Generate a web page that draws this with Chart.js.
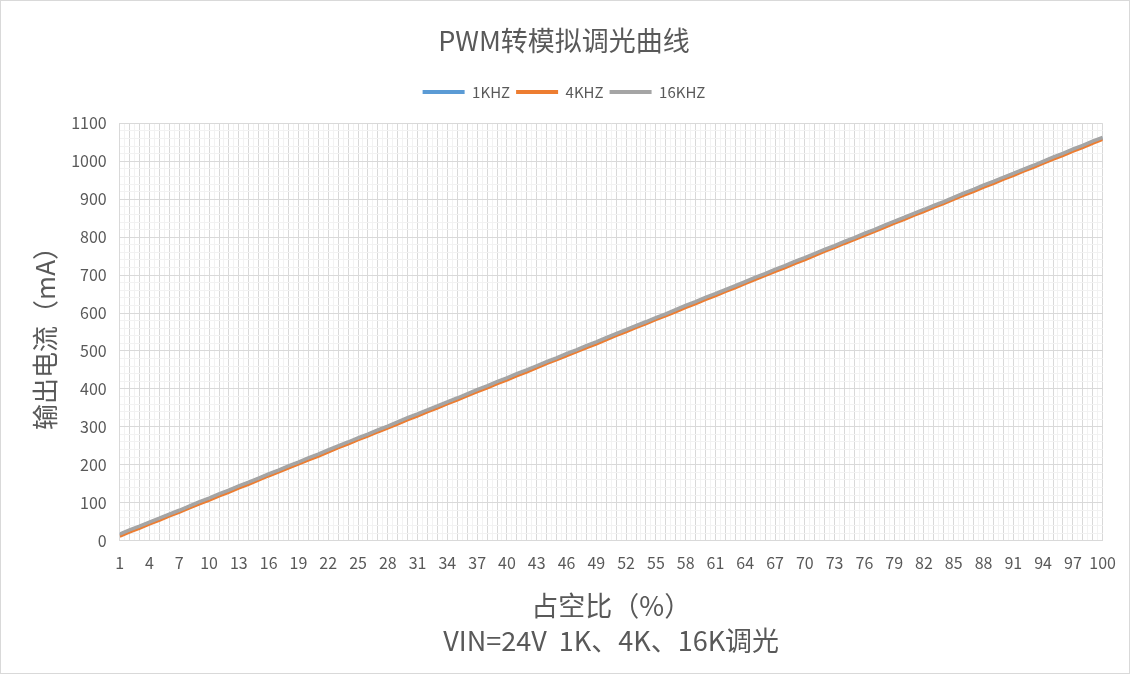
<!DOCTYPE html>
<html>
<head>
<meta charset="utf-8">
<script src="https://cdn.jsdelivr.net/npm/chart.js@4/dist/chart.umd.min.js"></script>
<style>
  html, body { margin: 0; padding: 0; background: #fff; }
  #wrap { width: 1128px; height: 672px; border: 1px solid #d9d9d9; }
</style>
</head>
<body>
<div id="wrap"><canvas id="pwm-chart" width="1128" height="672"></canvas></div>
<script>
// duty cycle (%) on x
const dutyCycles = [
  1,2,3,4,5,6,7,8,9,10,11,12,13,14,15,16,17,18,19,20,
  21,22,23,24,25,26,27,28,29,30,31,32,33,34,35,36,37,38,39,40,
  41,42,43,44,45,46,47,48,49,50,51,52,53,54,55,56,57,58,59,60,
  61,62,63,64,65,66,67,68,69,70,71,72,73,74,75,76,77,78,79,80,
  81,82,83,84,85,86,87,88,89,90,91,92,93,94,95,96,97,98,99,100
]

// output current (mA)
const current1k = [
  15,26,36,47,57,68,78,89,100,110,121,131,142,152,163,174,184,195,205,216,
  226,237,248,258,269,279,290,300,311,322,332,343,353,364,374,385,396,406,417,427,
  438,448,459,470,480,491,501,512,522,533,544,554,565,575,586,596,607,618,628,639,
  649,660,670,681,692,702,713,723,734,744,755,766,776,787,797,808,818,829,840,850,
  861,871,882,892,903,914,924,935,945,956,966,977,987,998,1009,1019,1030,1040,1051,1061
]
const current4k = [
  12,23,33,44,54,65,75,86,97,107,118,128,139,149,160,171,181,192,202,213,
  223,234,245,255,266,276,287,297,308,319,329,340,350,361,371,382,393,403,414,424,
  435,445,456,467,477,488,498,509,519,530,541,551,562,572,583,593,604,615,625,636,
  646,657,667,678,689,699,710,720,731,741,752,763,773,784,794,805,815,826,837,847,
  858,868,879,889,900,911,921,932,942,953,963,974,984,995,1006,1016,1027,1037,1048,1058
]
const current16k = [
  17,28,38,49,59,70,80,91,102,112,123,133,144,154,165,176,186,197,207,218,
  228,239,250,260,271,281,292,302,313,324,334,345,355,366,376,387,398,408,419,429,
  440,450,461,472,482,493,503,514,524,535,546,556,567,577,588,598,609,620,630,641,
  651,662,672,683,694,704,715,725,736,746,757,768,778,789,799,810,820,831,842,852,
  863,873,884,894,905,916,926,937,947,958,968,979,989,1000,1011,1021,1032,1042,1053,1063
]

const seriesNames = ['1KHZ', '4KHZ', '16KHZ']
const seriesColors = ['#5B9BD5', '#ED7D31', '#A5A5A5']
const seriesValues = [current1k, current4k, current16k]

const FONT = '"Noto Sans CJK SC", "Noto Sans", sans-serif'
const TEXT = '#595959'

function toPoints(values){
    return dutyCycles.map((d, i) => ({ x: d, y: values[i] }))
}

const datasets = seriesNames.map((name, i) => ({
    label: name,
    data: toPoints(seriesValues[i]),
    borderColor: seriesColors[i],
    backgroundColor: seriesColors[i],
    borderWidth: 3.5,
    pointRadius: 0,
    tension: 0,
    // gray on top, blue underneath
    order: seriesNames.length - 1 - i
}))

// leave some room under the legend, like excel does
const legendGap = {
    id: 'legendGap',
    beforeInit(chart){
        const fit = chart.legend.fit
        chart.legend.fit = function(){
            fit.call(this)
            this.height += 14
        }
    }
}

const config = {
    type: 'line',
    data: { datasets: datasets },
    plugins: [legendGap],
    options: {
        responsive: false,
        devicePixelRatio: 1,
        animation: false,
        layout: { padding: { left: 14, right: 16, top: 0, bottom: 15 } },
        plugins: {
            tooltip: { enabled: false },
            title: {
                display: true,
                text: 'PWM转模拟调光曲线',
                color: TEXT,
                font: { family: FONT, size: 27, weight: 'normal' },
                padding: { top: 24, bottom: 21 }
            },
            legend: {
                position: 'top',
                labels: {
                    color: TEXT,
                    font: { family: FONT, size: 15 },
                    boxWidth: 42,
                    boxHeight: 4,
                    padding: 6,
                    sort: (a, b) => a.datasetIndex - b.datasetIndex,
                    generateLabels: (chart) => {
                        const items = Chart.defaults.plugins.legend.labels.generateLabels(chart)
                        items.forEach(it => { it.lineWidth = 0; it.fillStyle = it.strokeStyle })
                        return items
                    }
                }
            }
        },
        scales: {
            x: {
                type: 'linear',
                min: 1,
                max: 100,
                border: { color: '#d9d9d9' },
                grid: {
                    drawTicks: false,
                    color: (ctx) => Number.isInteger(ctx.tick.value) ? '#d9d9d9' : '#f2f2f2'
                },
                ticks: {
                    stepSize: 0.5,
                    autoSkip: false,
                    maxRotation: 0,
                    padding: 13,
                    color: TEXT,
                    font: { family: FONT, size: 16 },
                    callback: (v) => (Number.isInteger(v) && (v - 1) % 3 === 0) ? v : ''
                },
                title: {
                    display: true,
                    text: ['占空比（%）', 'VIN=24V  1K、4K、16K调光'],
                    color: TEXT,
                    font: { family: FONT, size: 27, lineHeight: 1.3 },
                    padding: { top: 2, bottom: 0 }
                }
            },
            y: {
                min: 0,
                max: 1100,
                border: { color: '#d9d9d9' },
                grid: {
                    drawTicks: false,
                    color: (ctx) => ctx.tick.value % 100 === 0 ? '#d9d9d9' : '#f2f2f2'
                },
                ticks: {
                    stepSize: 20,
                    autoSkip: false,
                    padding: 13,
                    color: TEXT,
                    font: { family: FONT, size: 16 },
                    callback: (v) => v % 100 === 0 ? v : ''
                },
                title: {
                    display: true,
                    text: '输出电流（mA）',
                    color: TEXT,
                    font: { family: FONT, size: 26 },
                    padding: { top: 15, bottom: -3 }
                }
            }
        }
    }
}

const chart = new Chart(document.querySelector('#pwm-chart'), config)
</script>
</body>
</html>
